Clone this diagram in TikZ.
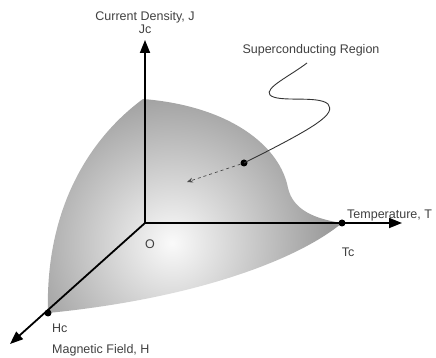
\documentclass[tikz,border=0pt]{standalone}
\usepackage{fontspec}
\setmainfont{Liberation Sans}
\usepackage{tikz}
\usetikzlibrary{arrows.meta, calc}

\begin{document}
\begin{tikzpicture}[x=1pt, y=1pt,
    axis/.style={line width=1.8pt, -{Triangle[length=13pt, width=10pt]}},
    dot/.style={circle, fill=black, inner sep=0pt, minimum size=7pt},
    lbl/.style={font=\fontsize{12.5}{14}\selectfont, text=black!75, inner sep=1pt}]
    \useasboundingbox (0,0) rectangle (436,358);
    % points of the diagram
    \coordinate (O) at (145,135);
    \coordinate (Jtip) at (145,318);
    \coordinate (Jtop) at (143,259);
    \coordinate (Ttip) at (402,135);
    \coordinate (Htip) at (10,14);
    \coordinate (aim) at (187,176);
    % superconducting region
    \begin{scope}
        \clip (Jtop) .. controls (230,252) and (280,212) .. (288,170)
            .. controls (293,148) and (315,139) .. (342,135)
            .. controls (300,100) and (200,60) .. (48,45)
            .. controls (45,150) and (90,220) .. (Jtop);
        \shade[inner color=black!2, outer color=black!62] (172,115) circle (255);
    \end{scope}
    % axes
    \draw[axis] (O) -- (Jtip);
    \draw[axis] (O) -- (Ttip);
    \draw[axis] (O) -- (Htip);
    \node[dot] (Tc) at (342,135) {};
    \node[dot] (Hc) at (48,45) {};
    \node[dot] (pt) at (244,195) {};
    % labels
    \node[lbl] (jname) at (145,341) {Current Density, J};
    \node[lbl] (jc) at (145,329) {Jc};
    \node[lbl, anchor=west] (tname) at (346,142) {Temperature, T};
    \node[lbl] (tc) at (348,106) {Tc};
    \node[lbl] (o) at (150,114) {O};
    \node[lbl, anchor=west] (hc) at (51,30) {Hc};
    \node[lbl, anchor=west] (hname) at (51,8) {Magnetic Field, H};
    \node[lbl] (region) at (311,308) {Superconducting Region};
    % pointer
    \draw[line width=0.9pt, black!80] (307,295) .. controls (290,282) and (264,270) .. (270,263)
        .. controls (278,255) and (318,263) .. (328,254)
        .. controls (336,244) and (318,232) .. (pt.center);
    \draw[dashed, line width=0.7pt, black!70, -{Stealth[length=6pt, width=5pt]}] (pt) -- (aim);
\end{tikzpicture}
\end{document}
